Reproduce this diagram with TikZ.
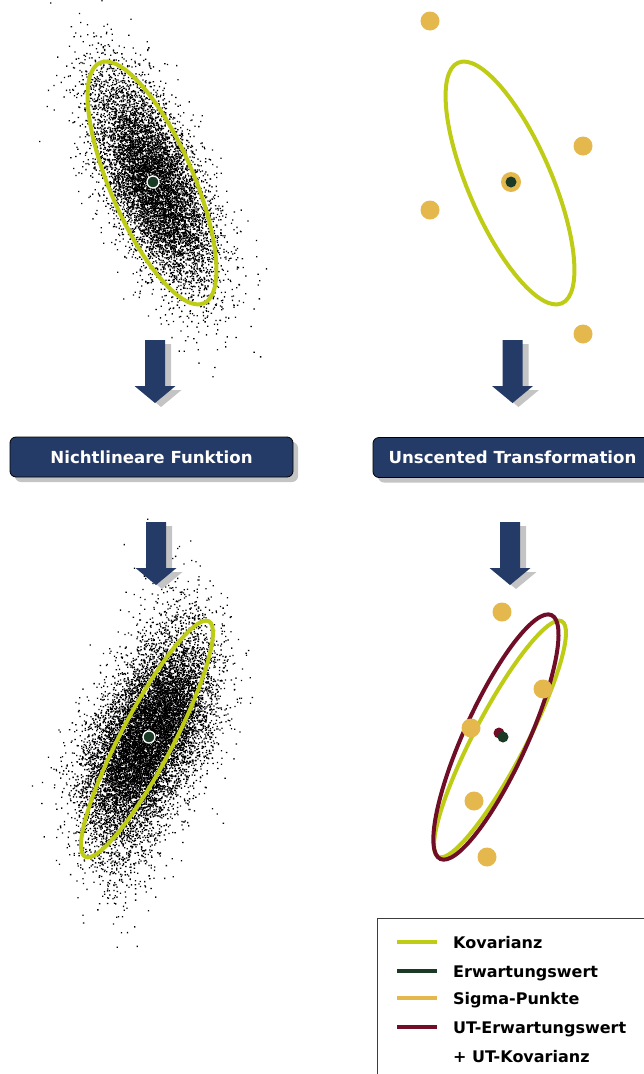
\documentclass[tikz,border=0pt]{standalone}
\usepackage{fontspec}
\setmainfont{DejaVu Sans}
\usetikzlibrary{calc,shadows}
\definecolor{navy}{RGB}{36,59,104}
\definecolor{shad}{RGB}{196,196,196}
\definecolor{kov}{RGB}{190,204,22}
\definecolor{erw}{RGB}{26,58,38}
\definecolor{sig}{RGB}{228,184,76}
\definecolor{utc}{RGB}{112,14,40}
\definecolor{legborder}{RGB}{60,60,60}
\newcount\cloudcnt
\tikzset{
  kovline/.style={draw=kov, line width=4pt},
  utline/.style={draw=utc, line width=4pt},
  sigmapt/.style={circle, fill=sig, minimum size=19pt, inner sep=0pt},
  meanpt/.style={circle, fill=erw, minimum size=11pt, inner sep=0pt},
  ringpt/.style={circle, fill=erw, draw=white, line width=1.3pt, minimum size=12pt, inner sep=0pt},
  utmean/.style={circle, fill=utc, minimum size=11pt, inner sep=0pt},
  navybox/.style={rounded corners=6pt, fill=navy, draw=black, line width=0.8pt, text=white,
    font=\bfseries\fontsize{16.6}{20}\selectfont, minimum height=40pt, inner sep=0pt,
    drop shadow={shadow xshift=5pt, shadow yshift=-5pt, fill=shad, opacity=1}},
  legtext/.style={anchor=base west, font=\bfseries\fontsize{16}{19}\selectfont, inner sep=0pt},
  legline/.style={line width=4.5pt},
  pics/blockarrow/.style={code={
    \fill[shad] (-4,4) -- (16,4) -- (16,50) -- (26.5,50) -- (6,67) -- (-14.5,50) -- (-4,50) -- cycle;
    \fill[navy] (-10,0) -- (10,0) -- (10,46) -- (20.5,46) -- (0,63) -- (-20.5,46) -- (-10,46) -- cycle;
  }}
}
\begin{document}
\begin{tikzpicture}[x=1pt,y=-1pt]
\useasboundingbox (0,0) rectangle (643,1074);

% ---------- top-left point cloud ----------
\pgfmathsetseed{2718}
\foreach \j in {1,...,55}{%
  \cloudcnt=0
  \loop
    \pgfmathsetmacro\cR{sqrt(-2*ln(0.0001+0.9998*rnd))}%
    \pgfmathsetmacro\cT{360*rnd}%
    \pgfmathsetmacro\cS{\cR*cos(\cT)}%
    \pgfmathsetmacro\cV{\cR*sin(\cT)}%
    \pgfmathsetmacro\cX{153+22.5*(\cS)+20.2*(\cV)}%
    \pgfmathsetmacro\cY{-(182+52.4*(\cS)-8.7*(\cV))}%
    \pgfpathrectangle{\pgfpoint{\cX pt}{\cY pt}}{\pgfpoint{1.3pt}{-1.3pt}}%
    \advance\cloudcnt by 1
  \ifnum\cloudcnt<150 \repeat
  \pgfusepath{fill}%
}

% ---------- bottom-left point cloud (transformed) ----------
\foreach \j in {1,...,80}{%
  \cloudcnt=0
  \loop
    \pgfmathsetmacro\cR{sqrt(-2*ln(0.0001+0.9998*rnd))}%
    \pgfmathsetmacro\cT{360*rnd}%
    \pgfmathsetmacro\cS{\cR*cos(\cT)}%
    \pgfmathsetmacro\cV{\cR*sin(\cT)}%
    \pgfmathsetmacro\cC{(\cS)*(\cS)*(\cS)}%
    \pgfmathsetmacro\cX{147+26.96*(\cS)+22.1*(\cV)-1.6*(\cC)}%
    \pgfmathsetmacro\cY{-(739-51.35*(\cS)+11.6*(\cV)-0.6*(\cC))}%
    \pgfpathrectangle{\pgfpoint{\cX pt}{\cY pt}}{\pgfpoint{1.3pt}{-1.3pt}}%
    \advance\cloudcnt by 1
  \ifnum\cloudcnt<150 \repeat
  \pgfusepath{fill}%
}

% ---------- centres ----------
\coordinate (c1) at (152,183);
\coordinate (c2) at (510,183);
\coordinate (c3) at (147,739);
\coordinate (c4) at (500,739);
\coordinate (c5) at (496,737);

% ---------- top-left ----------
\draw[kovline, rotate around={-66.7:(c1)}] (c1) ellipse [x radius=131pt, y radius=41.7pt];
\node[ringpt] (m1) at (153,182) {};

% ---------- top-right ----------
\draw[kovline, rotate around={-66.7:(c2)}] (c2) ellipse [x radius=131pt, y radius=41.7pt];
\node[sigmapt] (s1) at (430,21) {};
\node[sigmapt] (s2) at (583,146) {};
\node[sigmapt] (s3) at (430,210) {};
\node[sigmapt] (s4) at (583,334) {};
\node[sigmapt, minimum size=20pt] (s0) at (511,182) {};
\node[meanpt] (m2) at (511,182) {};

% ---------- arrows ----------
\pic (a1) at (155,340) {blockarrow};
\pic (a2) at (512.5,340) {blockarrow};
\pic (a3) at (156,522) {blockarrow};
\pic (a4) at (510,522) {blockarrow};

% ---------- boxes ----------
\node[navybox, minimum width=283pt] (nl) at (151.5,457) {Nichtlineare Funktion};
\node[navybox, minimum width=279pt] (ut) at (512.5,457.5) {Unscented Transformation};

% ---------- bottom-left ----------
\draw[kovline, rotate around={62.3:(c3)}] (c3) ellipse [x radius=133pt, y radius=26pt];
\node[ringpt] (m3) at (149,737) {};

% ---------- bottom-right ----------
\draw[kovline, rotate around={62.3:(c4)}] (c4) ellipse [x radius=133pt, y radius=26pt];
\draw[utline, rotate around={65.5:(c5)}] (c5) ellipse [x radius=134pt, y radius=31.6pt];
\node[sigmapt] (t1) at (502,612) {};
\node[sigmapt] (t2) at (543,689) {};
\node[sigmapt] (t3) at (471,728) {};
\node[sigmapt] (t4) at (474,801) {};
\node[sigmapt] (t5) at (487,857) {};
\node[utmean] (u1) at (499,733) {};
\node[meanpt] (m4) at (503,737) {};

% ---------- legend ----------
\draw[legborder, line width=1pt] (377,918) rectangle (660,1090);
\coordinate (k1) at (397,942);   \coordinate (k2) at (437,942);
\coordinate (e1) at (397,971);   \coordinate (e2) at (437,971);
\coordinate (g1) at (397,998);   \coordinate (g2) at (437,998);
\coordinate (v1) at (397,1027);  \coordinate (v2) at (437,1027);
\draw[legline, kov] (k1) -- (k2);
\draw[legline, erw] (e1) -- (e2);
\draw[legline, sig] (g1) -- (g2);
\draw[legline, utc] (v1) -- (v2);
\node[legtext] (lk) at (453,948) {Kovarianz};
\node[legtext] (le) at (453,977) {Erwartungswert};
\node[legtext] (lg) at (453,1004) {Sigma-Punkte};
\node[legtext] (lv) at (453,1033) {UT-Erwartungswert};
\node[legtext] (lw) at (453,1062) {+ UT-Kovarianz};
\end{tikzpicture}
\end{document}
